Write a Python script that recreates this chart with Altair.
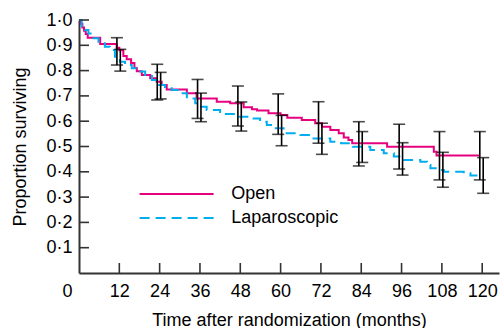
import altair as alt
import pandas as pd

# Kaplan-Meier step points (months, proportion surviving)
open_t = [0, 0.5, 1.0, 1.5, 2.0, 2.6, 6.3, 11.2, 12.0, 13.2, 14.2, 15.5, 16.5, 17.2, 18.7,
          21.2, 23.1, 24.6, 26.1, 32.1, 35.0, 41.0, 45.0, 49.0, 51.5, 53.0, 56.4, 60.0,
          62.0, 66.3, 70.3, 72.3, 74.8, 77.3, 78.8, 80.2, 81.3, 91.7, 105.6, 106.4, 119.3]
open_s = [1.0, 0.985, 0.97, 0.958, 0.945, 0.93, 0.905, 0.89, 0.88, 0.858, 0.845, 0.83, 0.81,
          0.797, 0.783, 0.77, 0.756, 0.743, 0.725, 0.71, 0.69, 0.677, 0.671, 0.655, 0.647,
          0.642, 0.631, 0.625, 0.614, 0.605, 0.592, 0.578, 0.565, 0.552, 0.536, 0.526, 0.513,
          0.499, 0.479, 0.464, 0.464]

lap_t = [0, 0.8, 1.8, 2.8, 4.3, 5.8, 7.7, 9.2, 10.7, 12.2, 13.7, 15.7, 17.7, 19.7, 21.7,
         23.6, 25.6, 27.6, 30.1, 32.1, 34.6, 36.0, 38.0, 42.0, 47.0, 51.0, 53.9, 55.9, 57.9,
         60.9, 65.9, 69.8, 74.8, 78.0, 81.5, 86.7, 90.7, 93.7, 96.6, 101.6, 103.6, 104.6,
         106.6, 108.6, 114.5, 116.5, 119.5]
lap_s = [1.0, 0.975, 0.96, 0.947, 0.928, 0.914, 0.894, 0.881, 0.855, 0.835, 0.822, 0.809,
         0.796, 0.783, 0.763, 0.743, 0.730, 0.723, 0.710, 0.690, 0.671, 0.657, 0.644, 0.628,
         0.618, 0.611, 0.598, 0.585, 0.572, 0.552, 0.545, 0.532, 0.519, 0.513, 0.499, 0.486,
         0.473, 0.460, 0.447, 0.440, 0.427, 0.414, 0.407, 0.400, 0.394, 0.385, 0.385]

# Confidence intervals at yearly time points
bar_t = [12, 24, 36, 48, 60, 72, 84, 96, 108, 120]
open_lo = [0.822, 0.684, 0.611, 0.581, 0.548, 0.513, 0.423, 0.411, 0.368, 0.368]
open_hi = [0.930, 0.825, 0.765, 0.739, 0.708, 0.677, 0.598, 0.588, 0.559, 0.559]
lap_lo = [0.798, 0.688, 0.598, 0.561, 0.503, 0.469, 0.437, 0.387, 0.339, 0.315]
lap_hi = [0.884, 0.793, 0.711, 0.676, 0.623, 0.592, 0.559, 0.515, 0.477, 0.456]

groups = ["Open", "Laparoscopic"]
colors = ["#e6007e", "#00aeef"]

x_ticks = [12, 24, 36, 48, 60, 72, 84, 96, 108, 120]
x_labels = [0] + x_ticks
y_ticks = [0.1, 0.2, 0.3, 0.4, 0.5, 0.6, 0.7, 0.8, 0.9, 1.0]

W, H = 420, 253
FONT = "Liberation Sans"

curves = pd.concat([
    pd.DataFrame({"t": open_t, "s": open_s, "g": groups[0]}),
    pd.DataFrame({"t": lap_t, "s": lap_s, "g": groups[1]}),
])
bars_open = pd.DataFrame({"t": bar_t, "lo": open_lo, "hi": open_hi})
bars_lap = pd.DataFrame({"t": bar_t, "lo": lap_lo, "hi": lap_hi})

xscale = alt.Scale(domain=[0, 125], nice=False, zero=False)
yscale = alt.Scale(domain=[0, 1], nice=False)

X_TITLE = "Time after randomization (months)"
Y_TITLE = "Proportion surviving"

x_axis = alt.Axis(
    values=x_labels, title=X_TITLE, labelFlush=False,
    labelOffset={"condition": {"test": "datum.value === 0", "value": -12}, "value": 0},
    labelPadding=9, titlePadding=11,
)
y_axis = alt.Axis(
    values=y_ticks, title=Y_TITLE,
    labelExpr="replace(format(datum.value, '.1f'), '.', '·')",
    labelPadding=7, titlePadding=16,
)


def X(field):
    return alt.X(field, scale=xscale, axis=x_axis, title=X_TITLE)


def Y(field):
    return alt.Y(field, scale=yscale, axis=y_axis, title=Y_TITLE)


# long horizontal line symbol (path scaled by sqrt(symbolSize))
leg = alt.Legend(title=None, orient="none", legendX=88.6, legendY=165,
                 symbolType="M-5,0L5,0", symbolSize=219, symbolStrokeWidth=2,
                 labelFontSize=18, labelFont=FONT, labelColor="black",
                 labelOffset=45.6, rowPadding=6)

lines = alt.Chart(curves).mark_line(interpolate="step-after", strokeWidth=2).encode(
    x=X("t:Q"),
    y=Y("s:Q"),
    color=alt.Color("g:N", scale=alt.Scale(domain=groups, range=colors), legend=leg),
    strokeDash=alt.StrokeDash("g:N", scale=alt.Scale(domain=groups, range=[[1, 0], [10, 6]]),
                              legend=leg),
)


def err_layers(df, off):
    base = alt.Chart(df)
    rule = base.mark_rule(color="black", strokeWidth=1.6, xOffset=off).encode(
        x=X("t:Q"), y=Y("lo:Q"), y2="hi:Q",
    )
    cap_lo = base.mark_tick(color="black", orient="horizontal", size=12, thickness=1.6,
                            xOffset=off).encode(x=X("t:Q"), y=Y("lo:Q"))
    cap_hi = base.mark_tick(color="black", orient="horizontal", size=12, thickness=1.6,
                            xOffset=off).encode(x=X("t:Q"), y=Y("hi:Q"))
    return [rule, cap_lo, cap_hi]


xt = alt.Chart(pd.DataFrame({"t": x_ticks})).mark_rule(color="#333", strokeWidth=1.6).encode(
    x=X("t:Q"), y=alt.value(H), y2=alt.value(H - 10))
yt = alt.Chart(pd.DataFrame({"s": y_ticks})).mark_rule(color="#333", strokeWidth=1.6).encode(
    y=Y("s:Q"), x=alt.value(0), x2=alt.value(10))

chart = alt.layer(
    lines, *err_layers(bars_open, -2.4), *err_layers(bars_lap, 1.0), xt, yt
).properties(
    width=W, height=H,
    background="white",
    autosize=alt.AutoSizeParams(type="none"),
    padding={"left": 79, "top": 20, "right": 1, "bottom": 55},
).configure_view(stroke=None).configure_axis(
    grid=False, ticks=False, domainColor="#333", domainWidth=2,
    labelFont=FONT, labelFontSize=18, labelColor="black",
    titleFont=FONT, titleFontSize=18, titleFontWeight="normal", titleColor="black",
)

chart.save("out.html", embed_options={"renderer": "svg", "actions": False})
